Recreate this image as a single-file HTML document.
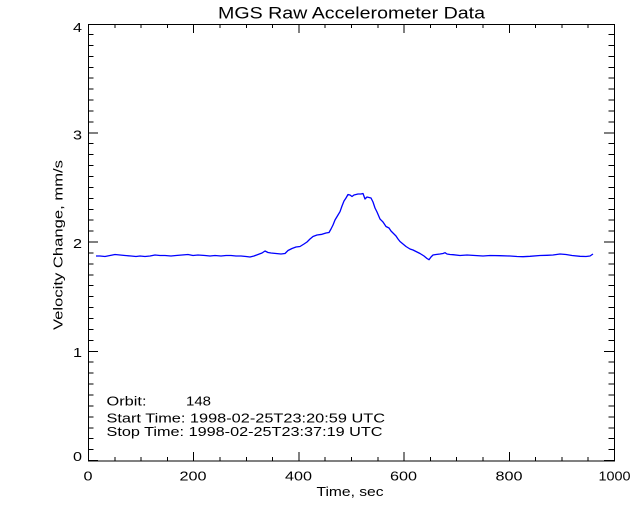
<!DOCTYPE html>
<html>
<head>
<meta charset="utf-8">
<style>
  html, body { margin:0; padding:0; background:#fff; }
  svg { display:block; }
  text { font-family: "Liberation Sans", "DejaVu Sans", sans-serif; fill:#000; }
</style>
</head>
<body>
<svg width="640" height="512" viewBox="0 0 640 512" xmlns="http://www.w3.org/2000/svg">
  <rect x="0" y="0" width="640" height="512" fill="#fff"/>

  <!-- Title -->
  <text x="218" y="18.5" font-size="16.5" textLength="267" lengthAdjust="spacingAndGlyphs">MGS Raw Accelerometer Data</text>

  <!-- Plot box -->
  <rect x="88.5" y="24.5" width="526" height="436.5" fill="none" stroke="#000" stroke-width="1"/>

  <!-- Ticks -->
  <g stroke="#000" stroke-width="1" shape-rendering="crispEdges">
    <!-- X major: bottom & top -->
    <path d="M88.5 461V452 M193.7 461V452 M298.9 461V452 M404.1 461V452 M509.3 461V452 M614.5 461V452
             M88.5 24V33 M193.7 24V33 M298.9 24V33 M404.1 24V33 M509.3 24V33 M614.5 24V33"/>
    <!-- X minor -->
    <path d="M114.8 461V457 M141.1 461V457 M167.4 461V457
             M220 461V457 M246.3 461V457 M272.6 461V457
             M325.2 461V457 M351.5 461V457 M377.8 461V457
             M430.4 461V457 M456.7 461V457 M483 461V457
             M535.6 461V457 M561.9 461V457 M588.2 461V457
             M114.8 24V28 M141.1 24V28 M167.4 24V28
             M220 24V28 M246.3 24V28 M272.6 24V28
             M325.2 24V28 M351.5 24V28 M377.8 24V28
             M430.4 24V28 M456.7 24V28 M483 24V28
             M535.6 24V28 M561.9 24V28 M588.2 24V28"/>
    <!-- Y major: left & right -->
    <path d="M88 460.5H98 M88 351.3H98 M88 242.1H98 M88 132.8H98 M88 24.5H98
             M614 460.5H604 M614 351.3H604 M614 242.1H604 M614 132.8H604 M614 24.5H604"/>
  </g>
  <g id="yminor" stroke="#000" stroke-width="1" shape-rendering="crispEdges"></g>

  <!-- X tick labels -->
  <g font-size="12.5">
    <text x="83.5" y="480.5" textLength="9" lengthAdjust="spacingAndGlyphs">0</text>
    <text x="179.5" y="480.5" textLength="27" lengthAdjust="spacingAndGlyphs">200</text>
    <text x="285" y="480.5" textLength="27" lengthAdjust="spacingAndGlyphs">400</text>
    <text x="390" y="480.5" textLength="27" lengthAdjust="spacingAndGlyphs">600</text>
    <text x="495.5" y="480.5" textLength="27" lengthAdjust="spacingAndGlyphs">800</text>
    <text x="598.5" y="480.5" textLength="32" lengthAdjust="spacingAndGlyphs">1000</text>
  </g>

  <!-- Y tick labels -->
  <g font-size="12.5">
    <text x="73" y="461" textLength="9" lengthAdjust="spacingAndGlyphs">0</text>
    <text x="73" y="357" textLength="9" lengthAdjust="spacingAndGlyphs">1</text>
    <text x="73" y="248" textLength="9" lengthAdjust="spacingAndGlyphs">2</text>
    <text x="73" y="139.5" textLength="9" lengthAdjust="spacingAndGlyphs">3</text>
    <text x="73" y="32" textLength="9" lengthAdjust="spacingAndGlyphs">4</text>
  </g>

  <!-- Axis titles -->
  <text x="316.5" y="496" font-size="12.5" textLength="67" lengthAdjust="spacingAndGlyphs">Time, sec</text>
  <text transform="translate(62.5,330) rotate(-90)" x="0" y="0" font-size="12.5" textLength="170" lengthAdjust="spacingAndGlyphs">Velocity Change, mm/s</text>

  <!-- Annotation -->
  <g font-size="12.5">
    <text x="106.5" y="405.5" textLength="40" lengthAdjust="spacingAndGlyphs">Orbit:</text>
    <text x="186" y="405.5" textLength="25" lengthAdjust="spacingAndGlyphs">148</text>
    <text x="106.5" y="422.5" textLength="278.5" lengthAdjust="spacingAndGlyphs">Start Time: 1998-02-25T23:20:59 UTC</text>
    <text x="106.5" y="436" textLength="276" lengthAdjust="spacingAndGlyphs">Stop Time: 1998-02-25T23:37:19 UTC</text>
  </g>

  <!-- Data -->
  <polyline fill="none" stroke="#0000ff" stroke-width="1.3" stroke-linejoin="round"
    points="96,256 100,256 105,256.5 110,255.5 115,254.5 120,255 125,255.5 131,256 136,256.5 140,256 145,256.5 150,256 155,255 160,255.5 165,255.5 171,256 176,255.5 182,255 188,254.5 193,255.5 198,255 205,255.5 210,256 215,255.5 221,256 226,255.5 231,255.5 236,256 241,256 246,256.5 250,257 254,256 258,254.5 262,253 265,251 268,252.5 271,253 276,253.5 281,254 285,253.5 288,250.5 292,248.5 296,247 300,246.5 304,244 307,242 310,239 313,236.5 317,235 322,234.3 326,233 329,232.5 331,229 333,225 335,220 338,215 340,211.7 342,206 344,201 346,198 348,194.5 350,195 352,196.5 354,195 356,194.5 358,194 361,194 363,193.5 365,199 367,197 369,197.5 371,198 373,202 375,208 377,212 380,219 383,222 386,226.5 389,228 391,231 393,233 396,236 398,239 400,241.5 403,244 406,246.5 410,249 413,250 416,251.5 420,253.5 424,256 427,258.5 429,259.7 431,257 433,255 436,254.5 440,254 443,253.5 445,252.7 447,254 450,254.5 453,254.7 460,255.5 467,255 475,255.5 483,256 490,255.5 500,255.7 510,256 517,256.5 523,256.7 530,256.3 540,255.5 547,255.3 553,255 560,254 566,254.5 572,255.5 580,256.3 586,256.5 590,256 593,254"/>

  <!-- Y minor ticks (static) -->
  <g stroke="#000" stroke-width="1" shape-rendering="crispEdges">
    <path d="M88 449.6H93.5 M88 438.7H93.5 M88 427.8H93.5 M88 416.8H93.5 M88 405.9H93.5 M88 395H93.5 M88 384.1H93.5 M88 373.1H93.5 M88 362.2H93.5
             M88 340.4H93.5 M88 329.4H93.5 M88 318.5H93.5 M88 307.6H93.5 M88 296.7H93.5 M88 285.7H93.5 M88 274.8H93.5 M88 263.9H93.5 M88 253H93.5
             M88 231.1H93.5 M88 220.2H93.5 M88 209.3H93.5 M88 198.4H93.5 M88 187.4H93.5 M88 176.5H93.5 M88 165.6H93.5 M88 154.7H93.5 M88 143.7H93.5
             M88 121.9H93.5 M88 111H93.5 M88 100H93.5 M88 89.1H93.5 M88 78.2H93.5 M88 67.3H93.5 M88 56.3H93.5 M88 45.4H93.5 M88 34.5H93.5
             M614 449.6H608.5 M614 438.7H608.5 M614 427.8H608.5 M614 416.8H608.5 M614 405.9H608.5 M614 395H608.5 M614 384.1H608.5 M614 373.1H608.5 M614 362.2H608.5
             M614 340.4H608.5 M614 329.4H608.5 M614 318.5H608.5 M614 307.6H608.5 M614 296.7H608.5 M614 285.7H608.5 M614 274.8H608.5 M614 263.9H608.5 M614 253H608.5
             M614 231.1H608.5 M614 220.2H608.5 M614 209.3H608.5 M614 198.4H608.5 M614 187.4H608.5 M614 176.5H608.5 M614 165.6H608.5 M614 154.7H608.5 M614 143.7H608.5
             M614 121.9H608.5 M614 111H608.5 M614 100H608.5 M614 89.1H608.5 M614 78.2H608.5 M614 67.3H608.5 M614 56.3H608.5 M614 45.4H608.5 M614 34.5H608.5"/>
  </g>
</svg>
</body>
</html>
